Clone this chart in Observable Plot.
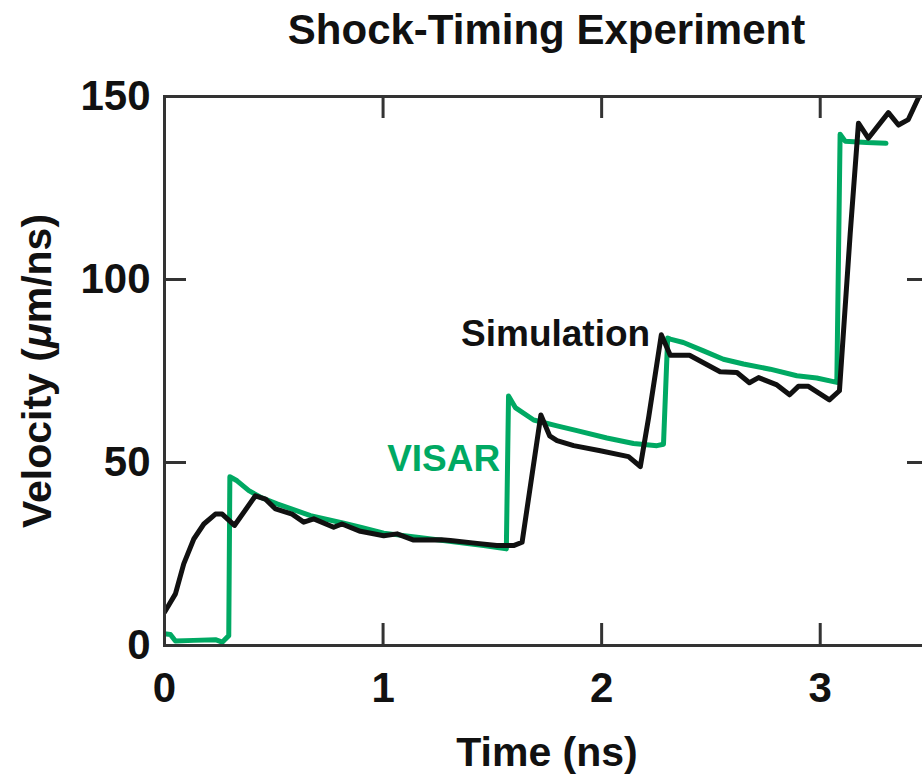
<!DOCTYPE html>
<html>
<head>
<meta charset="utf-8">
<script src="https://cdn.jsdelivr.net/npm/d3@7"></script>
<script src="https://cdn.jsdelivr.net/npm/@observablehq/plot@0.6"></script>
<style>
  html, body { margin: 0; padding: 0; background: #fff; overflow: hidden; }
  #chart { width: 930px; font-family: "Liberation Sans", Arial, Helvetica, sans-serif; }
  #title {
    height: 60px; line-height: 60px; font-size: 42px; font-weight: bold;
    color: #111; text-align: center; box-sizing: border-box;
    padding-left: 164px; padding-right: 1px; white-space: nowrap;
  }
</style>
</head>
<body>
<div id="chart">
  <div id="title">Shock-Timing Experiment</div>
</div>
<script>
// Simulated rear-surface velocity (black)
const simTime = [0, 0.05, 0.088, 0.134, 0.18, 0.233, 0.264, 0.32, 0.416, 0.462, 0.508, 0.584, 0.637, 0.683,
  0.774, 0.812, 0.896, 0.95, 1.003, 1.064, 1.14, 1.267, 1.308, 1.43, 1.52, 1.597, 1.636, 1.722, 1.762, 1.796,
  1.872, 1.994, 2.123, 2.177, 2.215, 2.273, 2.314, 2.402, 2.542, 2.619, 2.676, 2.718, 2.802, 2.86, 2.9,
  2.946, 3.042, 3.088, 3.137, 3.175, 3.22, 3.312, 3.358, 3.403, 3.449, 3.47];
const simVelocity = [9.1, 14.1, 22.3, 29.1, 33.2, 35.9, 35.9, 32.8, 40.9, 40.0, 37.3, 35.9, 33.7, 34.6,
  32.3, 33.2, 31.2, 30.6, 30.0, 30.5, 28.8, 28.9, 28.7, 27.9, 27.3, 27.3, 28.2, 63.0, 57.3, 56.0,
  54.6, 53.2, 51.6, 48.9, 62.3, 84.9, 79.3, 79.3, 74.8, 74.6, 71.8, 73.2, 71.2, 68.5, 70.8,
  70.8, 67.1, 69.6, 112.4, 142.7, 138.6, 145.6, 142.2, 143.7, 149.6, 154];

// Measured VISAR velocity (green)
const visarTime = [0, 0.027, 0.05, 0.134, 0.233, 0.264, 0.294, 0.299, 0.332, 0.386, 0.439, 0.515, 0.668,
  0.82, 0.896, 1.003, 1.155, 1.46, 1.564, 1.574, 1.605, 1.689, 1.796, 1.887, 2.024, 2.146, 2.253, 2.283,
  2.302, 2.314, 2.374, 2.466, 2.557, 2.649, 2.771, 2.893, 2.984, 3.076, 3.091, 3.114, 3.213, 3.301];
const visarVelocity = [3.2, 3.0, 1.2, 1.4, 1.6, 0.9, 2.7, 46.1, 45.0, 42.3, 40.5, 38.7, 35.5,
  33.4, 32.3, 30.7, 29.6, 27.3, 26.4, 68.2, 65.0, 61.6, 60.0, 58.7, 56.7, 55.2, 54.6, 55.0,
  84.0, 83.7, 82.8, 80.5, 78.2, 76.9, 75.5, 73.7, 73.1, 71.9, 139.7, 137.8, 137.4, 137.2];

// Axis ticks and in-plot series labels
const xTicks = [0, 1, 2, 3];
const yTicks = [0, 50, 100, 150];
const xInnerTicks = [1, 2, 3];
const yInnerTicks = [50, 100];
const seriesNames = ["Simulation", "VISAR"];
const seriesLabelTime = [2.222, 1.536];
const seriesLabelVelocity = [85.2, 51.0];
const seriesColors = ["#111111", "#00a963"];

const xLabel = "Time (ns)";
const yLabel = "Velocity (μm/ns)";

const sim = simTime.map((t, i) => ({t, v: simVelocity[i]}));
const visar = visarTime.map((t, i) => ({t, v: visarVelocity[i]}));
const seriesLabels = seriesNames.map((name, i) => ({
  name, t: seriesLabelTime[i], v: seriesLabelVelocity[i], color: seriesColors[i]
}));

const W = 930, H = 719;
const mT = 36, mB = 134, mL = 164, mR = 1;
const innerW = W - mL - mR, innerH = H - mT - mB;
const tickLen = 22;
const frameColor = "#333333";

const plot = Plot.plot({
  width: W,
  height: H,
  marginTop: mT,
  marginBottom: mB,
  marginLeft: mL,
  marginRight: mR,
  style: {fontFamily: '"Liberation Sans", Arial, Helvetica, sans-serif', fontWeight: "bold", color: "#111", background: "#fff"},
  x: {domain: [0, 3.5]},
  y: {domain: [0, 150]},
  marks: [
    // inward ticks on all four sides
    Plot.ruleX(xInnerTicks, {x: d => d, insetTop: innerH - tickLen, stroke: frameColor, strokeWidth: 3}),
    Plot.ruleX(xInnerTicks, {x: d => d, insetBottom: innerH - tickLen, stroke: frameColor, strokeWidth: 3}),
    Plot.ruleY(yInnerTicks, {y: d => d, insetRight: innerW - tickLen, stroke: frameColor, strokeWidth: 3}),
    Plot.ruleY(yInnerTicks, {y: d => d, insetLeft: innerW - tickLen, stroke: frameColor, strokeWidth: 3}),
    Plot.axisX({ticks: xTicks, tickFormat: d => String(d), tickSize: 0, tickPadding: 27, fontSize: 42, fontWeight: "bold", label: null}),
    Plot.axisY({ticks: yTicks, tickFormat: d => String(d), tickSize: 0, tickPadding: 14, fontSize: 42, fontWeight: "bold", label: null}),
    Plot.line(visar, {x: "t", y: "v", stroke: seriesColors[1], strokeWidth: 5, strokeLinejoin: "round", strokeLinecap: "round", clip: true}),
    Plot.line(sim, {x: "t", y: "v", stroke: seriesColors[0], strokeWidth: 5, strokeLinejoin: "round", strokeLinecap: "round", clip: true}),
    Plot.frame({stroke: frameColor, strokeWidth: 3}),
    Plot.text(seriesLabels, {x: "t", y: "v", text: "name", fill: "color", textAnchor: "end", lineAnchor: "middle", fontSize: 37, fontWeight: "bold"}),
    Plot.text([xLabel], {text: d => d, frameAnchor: "bottom", dy: 107, textAnchor: "middle", lineAnchor: "middle", fontSize: 41, fontWeight: "bold", fill: "#111"}),
    Plot.text([yLabel], {text: d => d, frameAnchor: "left", dx: -127, rotate: -90, textAnchor: "middle", lineAnchor: "middle", fontSize: 41, fontWeight: "bold", fill: "#111"})
  ]
});

// set the micro sign in the y-axis title in italics
d3.select(plot).selectAll("text")
  .filter(function () { return this.textContent === yLabel; })
  .each(function () {
    const t = d3.select(this);
    t.text(null);
    t.append("tspan").text("Velocity (");
    t.append("tspan").attr("font-style", "italic").text("μ");
    t.append("tspan").text("m/ns)");
  });

document.getElementById("chart").appendChild(plot);
</script>
</body>
</html>
